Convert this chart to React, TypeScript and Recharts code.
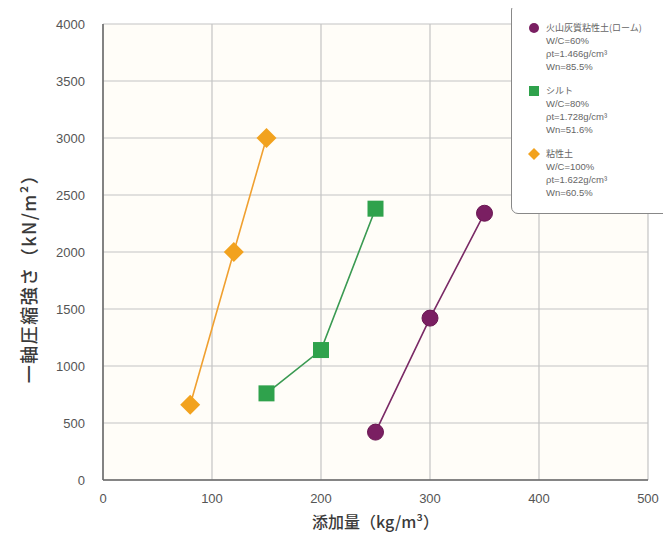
import React from "react";
import { ComposedChart, Line, XAxis, YAxis, CartesianGrid, Label } from "recharts";

const xTicks = [0, 100, 200, 300, 400, 500];
const yTicks = [0, 500, 1000, 1500, 2000, 2500, 3000, 3500, 4000];

const loamX = [250, 300, 350];
const loamY = [420, 1420, 2340];
const siltX = [150, 200, 250];
const siltY = [760, 1140, 2380];
const clayX = [80, 120, 150];
const clayY = [660, 2000, 3000];

const loamData = loamX.map((x, i) => ({ x, y: loamY[i] }));
const siltData = siltX.map((x, i) => ({ x, y: siltY[i] }));
const clayData = clayX.map((x, i) => ({ x, y: clayY[i] }));

const legendItems = [
  { name: "火山灰質粘性土(ローム)", lines: ["W/C=60%", "ρt=1.466g/cm³", "Wn=85.5%"], color: "#7a1f62", shape: "circle" },
  { name: "シルト", lines: ["W/C=80%", "ρt=1.728g/cm³", "Wn=51.6%"], color: "#2fa24c", shape: "square" },
  { name: "粘性土", lines: ["W/C=100%", "ρt=1.622g/cm³", "Wn=60.5%"], color: "#f2a21e", shape: "diamond" },
];

const CircleDot = (props: any) => {
  const { cx, cy } = props;
  if (cx == null || cy == null) return null;
  return <circle cx={cx} cy={cy} r={8} fill="#7a1f62" stroke="#6a1652" strokeWidth={1} />;
};
const SquareDot = (props: any) => {
  const { cx, cy } = props;
  if (cx == null || cy == null) return null;
  return <rect x={cx - 8} y={cy - 8} width={16} height={16} fill="#2fa24c" />;
};
const DiamondDot = (props: any) => {
  const { cx, cy } = props;
  if (cx == null || cy == null) return null;
  const r = 10;
  return <polygon points={`${cx},${cy - r} ${cx + r},${cy} ${cx},${cy + r} ${cx - r},${cy}`} fill="#f2a21e" />;
};

const LegendMarker = ({ shape, color }: { shape: string; color: string }) => (
  <svg width={12} height={12} style={{ position: "absolute", left: 0, top: 1 }}>
    {shape === "circle" && <circle cx={6} cy={6} r={5} fill={color} />}
    {shape === "square" && <rect x={1} y={1} width={10} height={10} fill={color} />}
    {shape === "diamond" && <polygon points="6,0 12,6 6,12 0,6" fill={color} />}
  </svg>
);

const font = "'Liberation Sans', Arial, sans-serif";
const cjk = "'Noto Sans CJK JP', sans-serif";

const YLabel = (props: any) => {
  const vb = props.viewBox || { x: 0, y: 0, width: 0, height: 0 };
  const cx = vb.x - 15;
  const cy = vb.y + vb.height / 2 + 22;
  return (
    <text
      x={cx}
      y={cy}
      transform={`rotate(-90 ${cx} ${cy})`}
      textAnchor="middle"
      dominantBaseline="central"
      style={{ fill: "#3a3a3a", fontSize: 18, fontFamily: cjk, fontWeight: 500, letterSpacing: 1.5 }}
    >
      一軸圧縮強さ（kN/m²）
    </text>
  );
};

export default function App() {
  return (
    <div style={{ position: "relative", width: 671, height: 541, margin: -8, background: "#ffffff", overflow: "hidden" }}>
      <ComposedChart width={671} height={541} margin={{ top: 24, right: 23, left: 43, bottom: 31 }}>
        <CartesianGrid stroke="#c4c4c4" strokeWidth={1.2} fill="#fffdf8" />
        <XAxis
          type="number"
          dataKey="x"
          domain={[0, 500]}
          ticks={xTicks}
          tickLine={false}
          axisLine={{ stroke: "#666", strokeWidth: 1.5 }}
          tick={{ fill: "#555", fontSize: 13, fontFamily: font }}
          tickMargin={8}
          height={30}
          allowDataOverflow
        >
          <Label value="添加量（kg/m³）" position="bottom" offset={7} style={{ fill: "#3a3a3a", fontSize: 16, fontWeight: 500, fontFamily: cjk }} />
        </XAxis>
        <YAxis
          type="number"
          dataKey="y"
          domain={[0, 4000]}
          ticks={yTicks}
          tickLine={false}
          axisLine={{ stroke: "#666", strokeWidth: 1.5 }}
          tick={{ fill: "#555", fontSize: 13, fontFamily: font }}
          tickMargin={12}
          width={60}
          allowDataOverflow
        >
          <Label content={<YLabel />} />
        </YAxis>
        <Line data={loamData} dataKey="y" stroke="#7a2a66" strokeWidth={1.6} dot={<CircleDot />} activeDot={false} isAnimationActive={false} />
        <Line data={siltData} dataKey="y" stroke="#3a9a52" strokeWidth={1.6} dot={<SquareDot />} activeDot={false} isAnimationActive={false} />
        <Line data={clayData} dataKey="y" stroke="#f0a030" strokeWidth={1.6} dot={<DiamondDot />} activeDot={false} isAnimationActive={false} />
      </ComposedChart>
      <div
        style={{
          position: "absolute",
          left: 511,
          top: 3,
          width: 175,
          height: 211,
          background: "#ffffff",
          border: "1.5px solid #888",
          borderRadius: 7,
          boxSizing: "border-box",
          fontFamily: font,
          fontSize: 9.5,
          color: "#666",
          lineHeight: "13px",
        }}
      >
        {legendItems.map((it, i) => (
          <div key={i} style={{ position: "absolute", left: 16, top: 17 + i * 63 }}>
            <div style={{ position: "relative", paddingLeft: 18 }}>
              <LegendMarker shape={it.shape} color={it.color} />
              <div style={{ fontFamily: cjk, fontSize: 9 }}>{it.name}</div>
              {it.lines.map((l, j) => (
                <div key={j}>{l}</div>
              ))}
            </div>
          </div>
        ))}
      </div>
    </div>
  );
}
